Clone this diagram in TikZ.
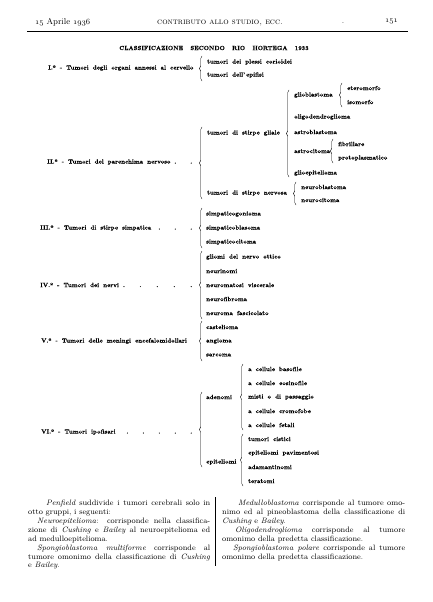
\documentclass[tikz,border=0pt]{standalone}
\usepackage{fontspec}
\usetikzlibrary{decorations.pathreplacing}
\newfontfamily\dfont{lmroman10-bold.otf}[FakeBold=0.3]
\newcommand\osn[1]{{\fontencoding{OML}\fontfamily{cmm}\fontseries{m}\fontshape{it}\selectfont #1}}
\newcommand\wsp{\spaceskip 4.1pt\relax}
\newcommand\bodyset{\tolerance 10000\relax\hyphenpenalty 10000\relax}
\begin{document}
\begin{tikzpicture}[x=1pt,y=-1pt,
  d/.style={font=\dfont\fontsize{6.1}{7}\selectfont\wsp, anchor=west, inner sep=0pt},
  brc/.style={decorate, decoration={brace, amplitude=2.6pt}, line width=0.4pt},
  hd/.style={font=\fontsize{8.5}{10}\selectfont, inner sep=0pt},
  body/.style={font=\fontsize{7.8}{8.9}\selectfont\bodyset, anchor=north west, inner sep=0pt, align=justify}]
\useasboundingbox (0,0) rectangle (433,602);
% header
\node[hd, anchor=west] (date) at (35,22) {\osn{15} Aprile \osn{1936}};
\node[hd] (run) at (220,23) {\textsc{contributo allo studio, ecc.}};
\node[hd] (dot) at (343,23) {.};
\node[hd, anchor=east] (pg) at (398,22) {\osn{151}};
\coordinate (r1) at (27,31); \coordinate (r2) at (408,31);
\draw[line width=0.6pt] (r1) -- (r2);
\node[font=\dfont\fontsize{6}{7}\selectfont, inner sep=0pt] (title) at (214,48)
  {CLASSIFICAZIONE\hspace{5pt} SECONDO\hspace{5pt} RIO\hspace{5pt} HORTEGA\hspace{5pt} 1933};
% level 1 labels
\node[d] (L1) at (48,68) {I.º - Tumori degli organi annessi al cervello};
\node[d] (L2) at (47,162) {\makebox[145pt][l]{II.º - Tumori del parenchima nervoso\hfill.\hspace{14pt}.}};
\node[d] (L3) at (40,228) {\makebox[152pt][l]{III.º - Tumori di stirpe simpatica\hfill.\hspace{14pt}.\hspace{14pt}.}};
\node[d] (L4) at (40,285) {\makebox[152pt][l]{IV.º - Tumori dei nervi .\hfill.\hspace{15pt}.\hspace{15pt}.\hspace{15pt}.}};
\node[d] (L5) at (41,341) {V.º - Tumori delle meningi encefalomidollari};
\node[d] (L6) at (41,432) {\makebox[151pt][l]{VI.º - Tumori ipofisari\hfill.\hspace{14pt}.\hspace{14pt}.\hspace{14pt}.\hspace{14pt}.}};
% I
\coordinate (b1t) at (202,56); \coordinate (b1b) at (202,81);
\draw[brc] (b1b) -- (b1t);
\node[d] (i11) at (207,62) {tumori dei plessi corioidei};
\node[d] (i12) at (207,75) {tumori dell’\,epifisi};
% II
\coordinate (b2t) at (202,127); \coordinate (b2b) at (202,199);
\draw[brc] (b2b) -- (b2t);
\node[d] (gl) at (207,133) {tumori di stirpe gliale};
\node[d] (nv) at (207,193) {tumori di stirpe nervosa};
\coordinate (bgt) at (289,90); \coordinate (bgb) at (289,177);
\draw[brc] (bgb) -- (bgt);
\node[d] (g1) at (294,95) {glioblastoma};
\node[d] (g2) at (294,117) {oligodendroglioma};
\node[d] (g3) at (294,132) {astroblastoma};
\node[d] (g4) at (294,151) {astrocitoma};
\node[d] (g5) at (294,173) {glioepitelioma};
\coordinate (bg1t) at (342,83); \coordinate (bg1b) at (342,107);
\draw[brc] (bg1b) -- (bg1t);
\node[d] (g11) at (347,88) {eteromorfo};
\node[d] (g12) at (347,102) {isomorfo};
\coordinate (bg4t) at (333,139); \coordinate (bg4b) at (333,163);
\draw[brc] (bg4b) -- (bg4t);
\node[d] (g41) at (338,144) {fibrillare};
\node[d] (g42) at (338,158) {protoplasmatico};
\coordinate (bnt) at (296,182); \coordinate (bnb) at (296,205);
\draw[brc] (bnb) -- (bnt);
\node[d] (n1) at (301,187) {neuroblastoma};
\node[d] (n2) at (301,200) {neurocitoma};
% III
\coordinate (b3t) at (202,208); \coordinate (b3b) at (202,248);
\draw[brc] (b3b) -- (b3t);
\node[d] (i31) at (206,214) {simpaticogonioma};
\node[d] (i32) at (206,228) {simpaticoblasoma};
\node[d] (i33) at (206,242) {simpaticocitoma};
% IV
\coordinate (b4t) at (202,251); \coordinate (b4b) at (202,319);
\draw[brc] (b4b) -- (b4t);
\node[d] (i41) at (206,257) {gliomi del nervo ottico};
\node[d] (i42) at (206,271) {neurinomi};
\node[d] (i43) at (206,285) {neuromatosi viscerale};
\node[d] (i44) at (206,299) {neurofibroma};
\node[d] (i45) at (206,313) {neuroma fascicolato};
% V
\coordinate (b5t) at (202,321); \coordinate (b5b) at (202,361);
\draw[brc] (b5b) -- (b5t);
\node[d] (i51) at (206,327) {castelioma};
\node[d] (i52) at (206,341) {angioma};
\node[d] (i53) at (206,355) {sarcoma};
% VI
\coordinate (b6t) at (202,392); \coordinate (b6b) at (202,467);
\draw[brc] (b6b) -- (b6t);
\node[d] (ad) at (206,397) {adenomi};
\node[d] (ep) at (206,462) {epiteliomi};
\coordinate (bat) at (243,364); \coordinate (bab) at (243,430);
\draw[brc] (bab) -- (bat);
\node[d] (a1) at (248,369) {a cellule basofile};
\node[d] (a2) at (248,383) {a cellule eosinofile};
\node[d] (a3) at (248,397) {misti o di passaggio};
\node[d] (a4) at (248,411) {a cellule cromofobe};
\node[d] (a5) at (248,425) {a cellule fetali};
\coordinate (bet) at (243,434); \coordinate (beb) at (243,486);
\draw[brc] (beb) -- (bet);
\node[d] (e1) at (248,439) {tumori cistici};
\node[d] (e2) at (248,453) {epiteliomi pavimentosi};
\node[d] (e3) at (248,467) {adamantinomi};
\node[d] (e4) at (248,481) {teratomi};
% bottom text
\node[body, text width=182pt] (colL) at (28,500) {%
\hspace*{18pt}\textit{Penfield} suddivide i tumori cerebrali solo in\linebreak
otto gruppi, i seguenti:\par
\hspace*{9pt}\textit{Neuroepitelioma}: corrisponde nella classifica-\linebreak
zione di \textit{Cushing} e \textit{Bailey} al neuroepitelioma ed\linebreak
ad medulloepitelioma.\par
\hspace*{9pt}\textit{Spongioblastoma multiforme} corrisponde al\linebreak
tumore omonimo della classificazione di \textit{Cushing}\linebreak
e \textit{Bailey}.};
\node[body, text width=183pt] (colR) at (222,500) {%
\hspace*{16pt}\textit{Medulloblastoma} corrisponde al tumore omo-\linebreak
nimo ed al pineoblastoma della classificazione di\linebreak
\textit{Cushing} e \textit{Bailey}.\par
\hspace*{13pt}\textit{Oligodendroglioma} corrisponde al tumore\linebreak
omonimo della predetta classificazione.\par
\hspace*{11pt}\textit{Spongioblastoma polare} corrisponde al tumore\linebreak
omonimo della predetta classificazione.};
\coordinate (v1) at (215,497); \coordinate (v2) at (215,566);
\draw[line width=0.5pt] (v1) -- (v2);
\end{tikzpicture}
\end{document}
